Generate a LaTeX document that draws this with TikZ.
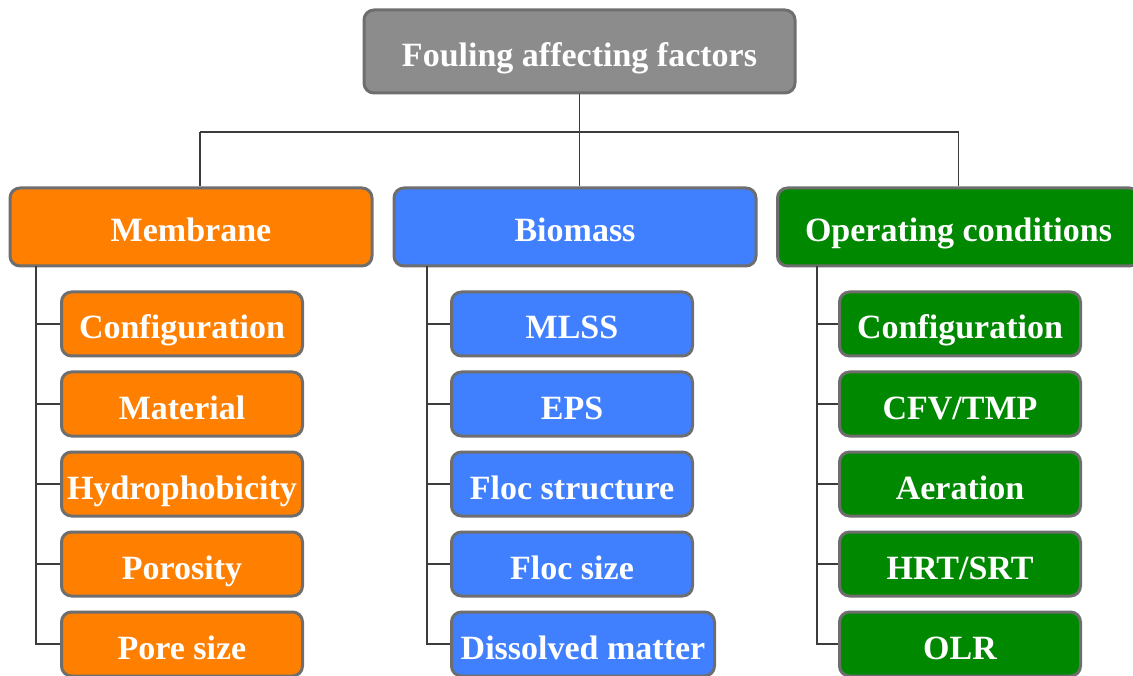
\documentclass[tikz,border=0pt]{standalone}
\usepackage{fontspec}
\setmainfont{Liberation Serif}
\usepackage{tikz}
\usetikzlibrary{positioning, calc}
\definecolor{boxgray}{RGB}{140, 140, 140}
\definecolor{edgegray}{RGB}{110, 110, 110}
\definecolor{linegray}{RGB}{60, 60, 60}
\definecolor{memorange}{RGB}{255, 127, 0}
\definecolor{bioblue}{RGB}{64, 128, 255}
\definecolor{opgreen}{RGB}{0, 136, 0}

\begin{document}
\begin{tikzpicture}[
    x=1pt, y=-1pt,
    box/.style={draw=edgegray, line width=3pt, rounded corners=10pt, rectangle, text=white,
        font=\fontsize{34}{40}\selectfont\bfseries, inner xsep=0pt, text centered,
        text height=32pt, text depth=2pt},
    root/.style={box, fill=boxgray, minimum width=431pt, minimum height=83pt},
    group/.style={box, minimum width=362pt, minimum height=78pt},
    item/.style={box, anchor=west, minimum width=241pt, minimum height=64pt},
    link/.style={draw=linegray, line width=1.2pt}
]
    \clip (0, 0) rectangle (1133, 676);

    \node [root] (top) at (579.5, 51.5) {Fouling affecting factors};

    \node [group, fill=memorange] (mem) at (191, 227) {Membrane};
    \node [group, fill=bioblue] (bio) at (575, 227) {Biomass};
    \node [group, fill=opgreen] (ope) at (958.5, 227) {Operating conditions};

    % membrane
    \node [item, fill=memorange] (m1) at (60, 324) {Configuration};
    \node [item, fill=memorange] (m2) at (60, 404) {Material};
    \node [item, fill=memorange] (m3) at (60, 484) {Hydrophobicity};
    \node [item, fill=memorange] (m4) at (60, 564) {Porosity};
    \node [item, fill=memorange] (m5) at (60, 644) {Pore size};

    % biomass
    \node [item, fill=bioblue] (b1) at (450, 324) {MLSS};
    \node [item, fill=bioblue] (b2) at (450, 404) {EPS};
    \node [item, fill=bioblue] (b3) at (450, 484) {Floc structure};
    \node [item, fill=bioblue] (b4) at (450, 564) {Floc size};
    \node [item, fill=bioblue, minimum width=263pt] (b5) at (450, 644) {Dissolved matter};

    % operating conditions
    \node [item, fill=opgreen] (o1) at (838, 324) {Configuration};
    \node [item, fill=opgreen] (o2) at (838, 404) {CFV/TMP};
    \node [item, fill=opgreen] (o3) at (838, 484) {Aeration};
    \node [item, fill=opgreen] (o4) at (838, 564) {HRT/SRT};
    \node [item, fill=opgreen] (o5) at (838, 644) {OLR};

    \coordinate (busL) at (200, 132);
    \coordinate (busR) at (958.5, 132);
    \coordinate (memT) at (36, 266);
    \coordinate (bioT) at (427, 266);
    \coordinate (opeT) at (817, 266);

    \draw [link] (busL) -- (busR);
    \draw [link] (top.south) -- (top.south |- bio.north);
    \draw [link] (busL) -- (busL |- mem.north);
    \draw [link] (busR) -- (ope.north);

    \draw [link] (memT) |- (m5.west);
    \draw [link] (bioT) |- (b5.west);
    \draw [link] (opeT) |- (o5.west);
    \foreach \n in {1, 2, 3, 4} {
        \draw [link] (memT |- m\n.west) -- (m\n.west);
        \draw [link] (bioT |- b\n.west) -- (b\n.west);
        \draw [link] (opeT |- o\n.west) -- (o\n.west);
    }

\end{tikzpicture}
\end{document}
